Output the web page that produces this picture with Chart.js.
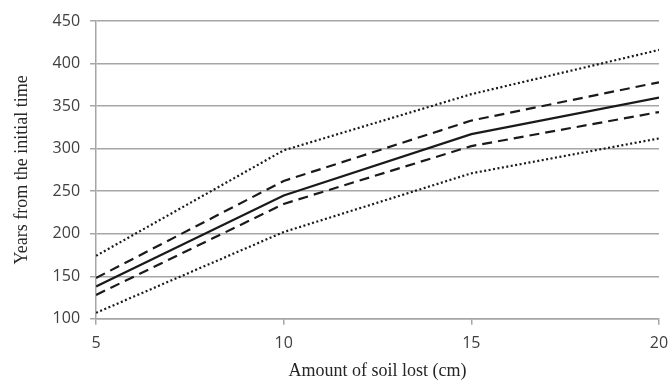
<!DOCTYPE html>
<html>
<head>
<meta charset="utf-8">
<script src="https://cdn.jsdelivr.net/npm/chart.js@4/dist/chart.umd.min.js"></script>
<style>
body{margin:0;background:#fff;}
#wrap{width:672px;height:380px;}
</style>
</head>
<body>
<div id="wrap"><canvas id="soilchart" width="672" height="380"></canvas></div>
<script>
var soilLost=[5,10,15,20];
var upperDotted=[174,298,364,416];
var upperDashed=[148,262,333,378];
var middle=[138,245,317,360];
var lowerDashed=[128,235,303,343];
var lowerDotted=[107,202,271,312];
var yTicks=[100,150,200,250,300,350,400,450];

function pts(vals){
    return vals.map(function(v,i){ return {x:soilLost[i],y:v}; });
}
function line(vals,dash,width){
    return {data:pts(vals),borderColor:'#1a1a1a',borderWidth:width,borderDash:dash,
        pointRadius:0,tension:0,fill:false};
}

var ctx=document.getElementById('soilchart').getContext('2d');
var soilchart=new Chart(ctx,{
    type:'line',
    data:{
        datasets:[
            line(upperDotted,[2,2.5],2.2),
            line(upperDashed,[10,6],2.2),
            line(middle,[],2.2),
            line(lowerDashed,[10,6],2.2),
            line(lowerDotted,[2,2.5],2.2)
        ]
    },
    options:{
        responsive:false,
        animation:false,
        layout:{padding:{left:3,right:13,top:21,bottom:0}},
        plugins:{legend:{display:false},tooltip:{enabled:false}},
        scales:{
            x:{
                type:'linear',min:5,max:20,
                afterBuildTicks:function(ax){ ax.ticks=soilLost.map(function(v){return {value:v};}); },
                afterFit:function(ax){ ax.paddingRight=0; },
                grid:{display:true,drawOnChartArea:false,drawTicks:true,tickLength:6,color:'#a6a6a6',lineWidth:1.5},
                border:{color:'#a6a6a6',width:1.5},
                ticks:{color:'#404040',font:{family:'Open Sans',size:16},padding:9,maxRotation:0},
                title:{display:true,text:'Amount of soil lost (cm)',color:'#262626',
                    font:{family:'Liberation Serif',size:18,lineHeight:1},padding:{top:0,bottom:0}}
            },
            y:{
                min:100,max:450,
                afterBuildTicks:function(ax){ ax.ticks=yTicks.map(function(v){return {value:v};}); },
                afterFit:function(ax){ ax.paddingTop=0; },
                grid:{color:'#a6a6a6',lineWidth:1.5,tickLength:6},
                border:{color:'#a6a6a6',width:1.5},
                ticks:{color:'#404040',font:{family:'Open Sans',size:16},padding:10},
                title:{display:true,text:'Years from the initial time',color:'#262626',
                    font:{family:'Liberation Serif',size:18},padding:{top:8,bottom:10}}
            }
        }
    }
});
</script>
</body>
</html>
